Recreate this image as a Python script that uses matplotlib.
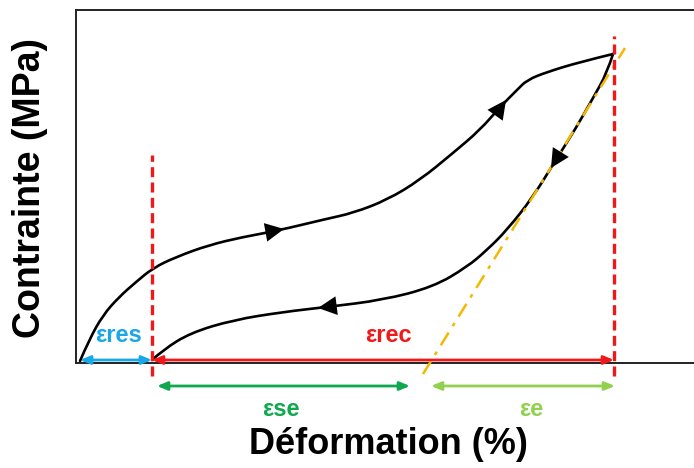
import numpy as np
import matplotlib.pyplot as plt
from matplotlib.path import Path
from matplotlib.patches import PathPatch

plt.rcParams['font.family'] = ['Liberation Sans', 'DejaVu Sans']

# schematic units (x: deformation, y: contrainte)
load_x = [4, 13, 27, 43, 60, 77, 100, 133, 167, 200, 250, 277, 311, 344, 377, 404, 424, 441, 451, 471, 504, 537]
load_y = [2, 23, 48, 66, 81, 95, 106, 118, 126, 132, 144, 150, 163, 183, 210, 233, 256, 273, 283, 291, 301, 309]

unload_x = [537, 531, 517, 500, 481, 457, 431, 411, 391, 357, 307, 251, 207, 157, 114, 87, 76]
unload_y = [309, 290, 265, 235, 205, 166, 133, 113, 96, 76, 63, 56, 51, 43, 30, 13, 3]

eps_res = 76       # residual strain
eps_max = 538      # max strain
elastic_line_x = [347, 549]
elastic_line_y = [-11, 315]

RED = '#f01919'
BLUE = '#1aa7e6'
GREEN = '#10a84e'
LGREEN = '#92d050'
ORANGE = '#f5b800'

fig = plt.figure(figsize=(6.94, 4.68), dpi=100)
ax = fig.add_axes([76 / 694, 105 / 468, 630 / 694, 353 / 468])
ax.set_xlim(0, 630)
ax.set_ylim(0, 353)
ax.set_xticks([])
ax.set_yticks([])
for s in ax.spines.values():
    s.set_linewidth(1.4)
    s.set_color('#222222')


def smooth_curve(xs, ys, z=3):
    # quadratic bezier through midpoints, read points used as control points
    pts = np.column_stack([xs, ys]).astype(float)
    verts = [pts[0]]
    codes = [Path.MOVETO]
    for i in range(1, len(pts) - 1):
        mid = (pts[i] + pts[i + 1]) / 2
        if i == len(pts) - 2:
            mid = pts[i + 1]
        verts += [pts[i], mid]
        codes += [Path.CURVE3, Path.CURVE3]
    patch = PathPatch(Path(verts, codes), fill=False, edgecolor='black', lw=1.9,
                      capstyle='round', zorder=z)
    ax.add_patch(patch)


# hysteresis loop
smooth_curve(load_x, load_y)
smooth_curve(unload_x, unload_y, z=2)

# elastic line (drawn over the unloading branch, as dashes)
ax.plot(elastic_line_x, elastic_line_y, color=ORANGE, lw=1.8, ls=(0, (6, 3, 1.5, 3)),
        clip_on=False, zorder=3)


def curve_arrow(p0, p1):
    ax.annotate('', xy=p1, xytext=p0,
                arrowprops=dict(arrowstyle='-|>,head_length=0.9,head_width=0.45',
                                mutation_scale=15, color='black', lw=0,
                                shrinkA=0, shrinkB=0),
                zorder=4)


curve_arrow((186, 130), (208, 134))
curve_arrow((415, 242), (430, 263))
curve_arrow((491, 221), (475, 195))
curve_arrow((266, 58), (242, 55))

# vertical red dashed lines
ax.plot([eps_res, eps_res], [-13, 208], color=RED, lw=2.4, ls=(0, (3, 1.6)), clip_on=False, zorder=5)
ax.plot([eps_max, eps_max], [-13, 327], color=RED, lw=2.4, ls=(0, (3, 1.6)), clip_on=False, zorder=5)


def dbl_arrow(x0, x1, y, color):
    ax.annotate('', xy=(x1, y), xytext=(x0, y), annotation_clip=False,
                arrowprops=dict(arrowstyle='<|-|>,head_length=0.6,head_width=0.25',
                                color=color, lw=2, shrinkA=0, shrinkB=0),
                zorder=4)


dbl_arrow(4, eps_res, 3, BLUE)
dbl_arrow(eps_res, eps_max, 3, RED)
dbl_arrow(81, 334, -23, GREEN)
dbl_arrow(355, eps_max + 1, -23, LGREEN)

ax.text(43, 27, 'εres', color=BLUE, fontsize=17, fontweight='bold', ha='center', va='center')
ax.text(312, 27, 'εrec', color=RED, fontsize=17, fontweight='bold', ha='center', va='center')
ax.text(205, -46, 'εse', color=GREEN, fontsize=17, fontweight='bold', ha='center', va='center')
ax.text(455, -46, 'εe', color=LGREEN, fontsize=17, fontweight='bold', ha='center', va='center')

fig.text(388 / 694, 1 - 445 / 468, 'Déformation (%)', fontsize=26, fontweight='bold',
         ha='center', va='center')
fig.text(30 / 694, 1 - 188 / 468, 'Contrainte (MPa)', fontsize=27, fontweight='bold',
         ha='center', va='center', rotation=90)

fig.savefig('out.png', dpi=100)
